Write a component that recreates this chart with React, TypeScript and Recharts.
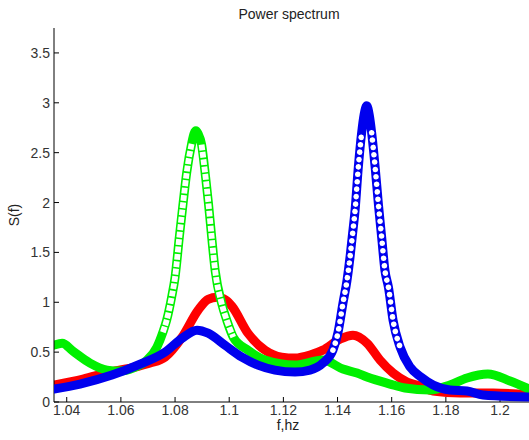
import React from 'react';
import { ComposedChart, Line, XAxis, YAxis } from 'recharts';

const W = 529;
const H = 440;

const xTicks = [1.04, 1.06, 1.08, 1.1, 1.12, 1.14, 1.16, 1.18, 1.2];
const yTicks = [0, 0.5, 1, 1.5, 2, 2.5, 3, 3.5];
const xDomain = [1.0353, 1.2107];
const yDomain = [0, 3.75];

const redFreq = [1.0353, 1.046, 1.056, 1.0652, 1.0708, 1.0763, 1.0826, 1.0885, 1.0922, 1.0955, 1.0988, 1.101, 1.1069, 1.1132, 1.1194, 1.1242, 1.1298, 1.1346, 1.1409, 1.1457, 1.1509, 1.1557, 1.1605, 1.1657, 1.1705, 1.1753, 1.1853, 1.1975, 1.2107];
const redPower = [0.17, 0.23, 0.3, 0.35, 0.39, 0.45, 0.65, 0.92, 1.03, 1.05, 1.02, 0.96, 0.69, 0.52, 0.45, 0.44, 0.47, 0.52, 0.63, 0.67, 0.59, 0.42, 0.29, 0.2, 0.16, 0.11, 0.09, 0.09, 0.07];

const greenFreq = [1.0353, 1.0383, 1.0423, 1.0486, 1.0549, 1.0597, 1.0645, 1.0696, 1.0733, 1.0755, 1.0769, 1.0788, 1.08, 1.0816, 1.083, 1.0843, 1.0862, 1.087, 1.0877, 1.0885, 1.0898, 1.0913, 1.0923, 1.0935, 1.0948, 1.0972, 1.0991, 1.1015, 1.1069, 1.1132, 1.1243, 1.1346, 1.142, 1.1472, 1.1509, 1.1594, 1.1649, 1.1741, 1.1815, 1.1878, 1.1955, 1.2037, 1.2107];
const greenPower = [0.57, 0.59, 0.51, 0.39, 0.32, 0.31, 0.34, 0.42, 0.55, 0.7, 0.82, 1.06, 1.25, 1.66, 2.0, 2.3, 2.6, 2.69, 2.72, 2.69, 2.58, 2.25, 2.0, 1.66, 1.32, 0.99, 0.82, 0.65, 0.52, 0.42, 0.37, 0.42, 0.33, 0.29, 0.25, 0.18, 0.14, 0.12, 0.17, 0.24, 0.28, 0.21, 0.13];

const blueFreq = [1.0353, 1.0449, 1.0567, 1.0671, 1.0763, 1.0826, 1.0881, 1.0922, 1.0984, 1.1047, 1.1106, 1.1169, 1.1243, 1.1298, 1.1346, 1.1383, 1.1402, 1.142, 1.1435, 1.1446, 1.1454, 1.1465, 1.1476, 1.1489, 1.1498, 1.1508, 1.1517, 1.1526, 1.1539, 1.1551, 1.1563, 1.1575, 1.1588, 1.1605, 1.1631, 1.1668, 1.1708, 1.1753, 1.1815, 1.1878, 1.1937, 1.2107];
const bluePower = [0.13, 0.18, 0.27, 0.38, 0.5, 0.64, 0.72, 0.69, 0.57, 0.45, 0.37, 0.32, 0.3, 0.32, 0.39, 0.52, 0.7, 0.99, 1.22, 1.45, 1.65, 1.93, 2.33, 2.7, 2.88, 2.97, 2.88, 2.7, 2.35, 1.98, 1.65, 1.32, 1.15, 0.82, 0.55, 0.35, 0.25, 0.17, 0.12, 0.11, 0.07, 0.05];

type Row = { f: number; s: number };

const rows = (f: number[], s: number[]): Row[] => f.map((x, i) => ({ f: x, s: s[i] }));
// the steep flanks where the original markers stand apart (drawn hollow)
const flank = (f: number[], s: number[], fLo: number, fHi: number, sLo: number, sHi: number): Row[] =>
  rows(f, s).filter((r) => r.f >= fLo && r.f <= fHi && r.s >= sLo && r.s <= sHi);

const redRows = rows(redFreq, redPower);
const greenRows = rows(greenFreq, greenPower);
const blueRows = rows(blueFreq, bluePower);
const greenLeft = flank(greenFreq, greenPower, 1.07, 1.0875, 0.6, 2.62);
const greenRight = flank(greenFreq, greenPower, 1.0878, 1.11, 0.6, 2.62);
const blueLeft = flank(blueFreq, bluePower, 1.13, 1.1505, 0.45, 2.75);
const blueRight = flank(blueFreq, bluePower, 1.151, 1.17, 0.45, 2.75);

const FONT = '"Liberation Sans", Arial, Helvetica, sans-serif';
const fmt = (v: number) => String(Number(v.toFixed(2)));

const XTick = (props: any) => {
  const { x, y, payload } = props;
  return (
    <g>
      <line x1={x} y1={y} x2={x} y2={y - 5} stroke="#000" strokeWidth={1} />
      <text x={x} y={y + 12.5} textAnchor="middle" fontSize={14} fill="#333" fontFamily={FONT}>
        {fmt(payload.value)}
      </text>
    </g>
  );
};

const YTick = (props: any) => {
  const { x, y, payload } = props;
  return (
    <g>
      <line x1={x} y1={y} x2={x + 5} y2={y} stroke="#000" strokeWidth={1} />
      <text x={x - 4} y={y + 5} textAnchor="end" fontSize={14} fill="#333" fontFamily={FONT}>
        {fmt(payload.value)}
      </text>
    </g>
  );
};

const BAND = 9;

const css = `
path[stroke-width="5.8"] { stroke-dasharray: 5.8 1.6 !important; stroke-linecap: butt !important; }
path[stroke-width="5.6"] { stroke-dasharray: 0.01 7.4 !important; stroke-linecap: round !important; }
`;

interface LayerProps {
  children: React.ReactNode;
  axes: boolean;
}

const Frame = ({ children, axes }: LayerProps) => (
  <ComposedChart width={W} height={H} margin={{ top: 28, right: 0, bottom: 0, left: 0 }}>
    <XAxis
      type="number"
      dataKey="f"
      domain={xDomain}
      ticks={xTicks}
      interval={0}
      allowDataOverflow
      height={38}
      tickSize={0}
      tickMargin={0}
      tickLine={false}
      axisLine={axes ? { stroke: '#000', strokeWidth: 1 } : false}
      tick={axes ? <XTick /> : false}
    />
    <YAxis
      type="number"
      dataKey="s"
      domain={yDomain}
      ticks={yTicks}
      interval={0}
      allowDataOverflow
      width={54}
      tickSize={0}
      tickMargin={0}
      tickLine={false}
      axisLine={axes ? { stroke: '#000', strokeWidth: 1 } : false}
      tick={axes ? <YTick /> : false}
    />
    {children}
  </ComposedChart>
);

const lineBase = { dataKey: 's', type: 'monotone' as const, dot: false, activeDot: false, isAnimationActive: false };

export default function App() {
  return (
    <div style={{ position: 'absolute', left: 0, top: 0, width: W, height: H, background: '#fff', fontFamily: FONT }}>
      <style>{css}</style>
      <div style={{ position: 'absolute', left: 0, top: 0 }}>
        <Frame axes>
          <Line {...lineBase} data={redRows} stroke="#ff0000" strokeWidth={BAND} strokeLinecap="round" strokeLinejoin="round" />
          <Line {...lineBase} data={greenRows} stroke="#00f000" strokeWidth={BAND} strokeLinecap="round" strokeLinejoin="round" />
        </Frame>
      </div>
      <div style={{ position: 'absolute', left: 0, top: 0 }}>
        <Frame axes={false}>
          <Line {...lineBase} data={greenLeft} stroke="#ffffff" strokeWidth={5.8} />
          <Line {...lineBase} data={greenRight} stroke="#ffffff" strokeWidth={5.8} />
        </Frame>
      </div>
      <div style={{ position: 'absolute', left: 0, top: 0 }}>
        <Frame axes={false}>
          <Line {...lineBase} data={blueRows} stroke="#0000ee" strokeWidth={BAND} strokeLinecap="round" strokeLinejoin="round" />
        </Frame>
      </div>
      <div style={{ position: 'absolute', left: 0, top: 0 }}>
        <Frame axes={false}>
          <Line {...lineBase} data={blueLeft} stroke="#ffffff" strokeWidth={5.6} />
          <Line {...lineBase} data={blueRight} stroke="#ffffff" strokeWidth={5.6} />
        </Frame>
      </div>
      <div style={{ position: 'absolute', left: 139, top: 6, width: 300, textAlign: 'center', fontSize: 14, lineHeight: '16px', color: '#222' }}>
        Power spectrum
      </div>
      <div style={{ position: 'absolute', left: 238, top: 420, width: 100, textAlign: 'center', fontSize: 14, lineHeight: '10px', color: '#222' }}>
        f,hz
      </div>
      <div style={{ position: 'absolute', left: -36, top: 207, width: 100, height: 16, textAlign: 'center', fontSize: 14, lineHeight: '16px', color: '#222', transform: 'rotate(-90deg)' }}>
        S(f)
      </div>
    </div>
  );
}
